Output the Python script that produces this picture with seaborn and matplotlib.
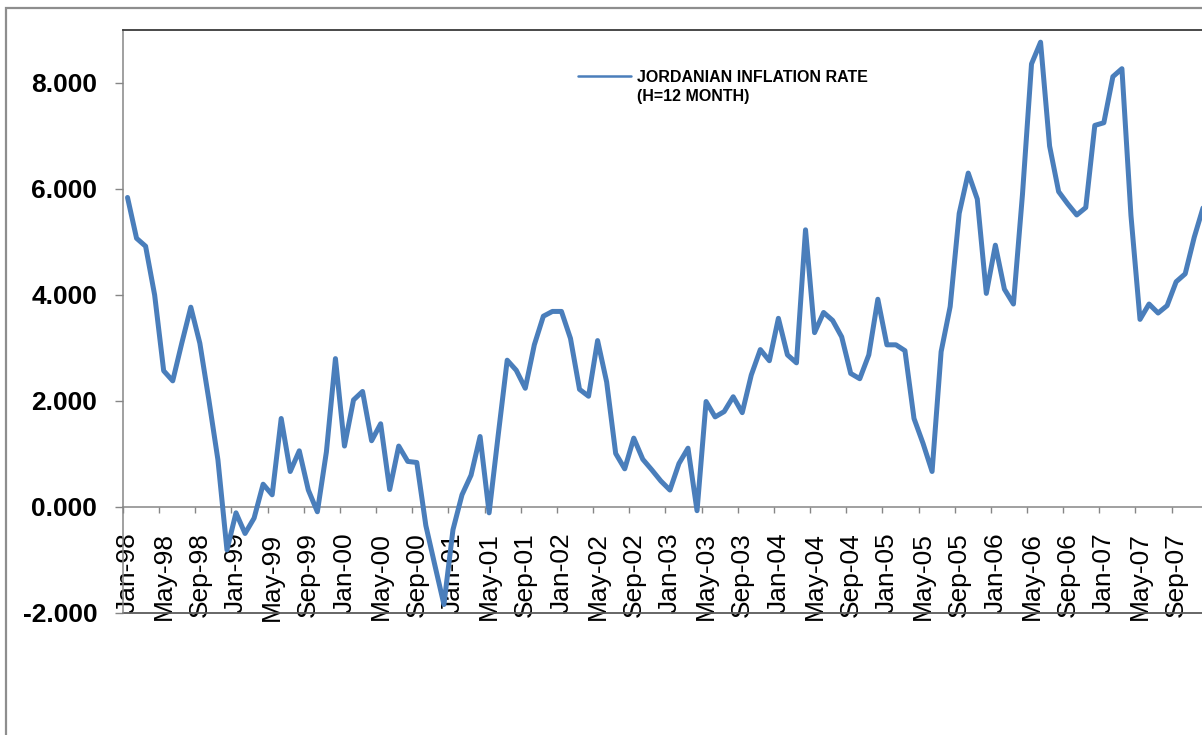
import matplotlib
matplotlib.use("Agg")
import matplotlib.pyplot as plt
from matplotlib.lines import Line2D
from matplotlib.patches import Rectangle
import seaborn as sns
import pandas as pd
import numpy as np

# ---------------- data ----------------
months = pd.date_range("1998-01-01", periods=120, freq="MS").strftime("%b-%y").tolist()
inflation = [
    5.84, 5.07, 4.92, 4.00, 2.57, 2.38, 3.09, 3.77, 3.09, 2.02, 0.89, -0.81,
    -0.11, -0.50, -0.21, 0.43, 0.23, 1.67, 0.67, 1.06, 0.32, -0.09, 1.04, 2.80,
    1.15, 2.02, 2.18, 1.25, 1.57, 0.33, 1.15, 0.86, 0.84, -0.35, -1.10, -1.84,
    -0.43, 0.23, 0.60, 1.33, -0.11, 1.35, 2.77, 2.58, 2.24, 3.06, 3.60, 3.69,
    3.69, 3.18, 2.22, 2.09, 3.14, 2.36, 1.01, 0.72, 1.30, 0.90, 0.70, 0.49,
    0.32, 0.82, 1.11, -0.07, 1.99, 1.70, 1.80, 2.08, 1.78, 2.49, 2.97, 2.76,
    3.56, 2.87, 2.72, 5.23, 3.29, 3.67, 3.52, 3.21, 2.52, 2.42, 2.87, 3.92,
    3.06, 3.06, 2.95, 1.67, 1.20, 0.67, 2.93, 3.78, 5.54, 6.30, 5.81, 4.03,
    4.94, 4.11, 3.83, 5.90, 8.36, 8.77, 6.81, 5.95, 5.72, 5.51, 5.65, 7.20,
    7.25, 8.12, 8.27, 5.50, 3.54, 3.83, 3.66, 3.80, 4.25, 4.40, 5.09, 5.66,
]
y_ticks = [-2, 0, 2, 4, 6, 8]
series_label = "JORDANIAN INFLATION RATE"
series_label2 = "(H=12 MONTH)"

df = pd.DataFrame({"idx": np.arange(len(months)), "month": months, "rate": inflation})

# ---------------- style ----------------
sns.set_style("white")
plt.rcParams["font.family"] = ["Liberation Sans", "DejaVu Sans"]
plt.rcParams["text.color"] = "black"
plt.rcParams["xtick.labelcolor"] = "black"
plt.rcParams["ytick.labelcolor"] = "black"

W, H = 1202, 735
fig = plt.figure(figsize=(W / 100, H / 100), dpi=100)
fig.patch.set_facecolor("white")

# axes: left spine at x=123, top at y=30, bottom (-2) at y=613, 9.04 px per month
left_px, top_px, bot_px, cat_w = 123, 30, 613, 9.04
n = len(months)
ax = fig.add_axes([left_px / W, 1 - bot_px / H, n * cat_w / W, (bot_px - top_px) / H])

blue = "#4a7ebb"
sns.lineplot(data=df, x="idx", y="rate", ax=ax, color=blue, linewidth=3.6,
             solid_joinstyle="round", solid_capstyle="round", label=series_label,
             zorder=5)

ax.set_xlim(-0.5, n - 0.5)
ax.set_ylim(-2, 9)
ax.set_xlabel("")
ax.set_ylabel("")

# spines
ax.spines["right"].set_visible(False)
ax.spines["top"].set_color("#3a3a3a")
ax.spines["top"].set_linewidth(1.3)
ax.spines["left"].set_color("#868686")
ax.spines["left"].set_linewidth(1.1)
ax.spines["bottom"].set_position(("data", 0))
ax.spines["bottom"].set_color("#868686")
ax.spines["bottom"].set_linewidth(1.1)
ax.axhline(-2, color="#5a5a5a", lw=1.3, clip_on=False, zorder=1)

# y axis
ax.set_yticks(y_ticks)
ax.set_yticklabels([f"{v:.3f}" for v in y_ticks], fontsize=19, fontweight="bold",
                   color="black")
ax.tick_params(axis="y", direction="out", length=6, width=1.0, color="#868686",
               pad=12.5, left=True, labelcolor="black")

# x axis: tick marks at category boundaries, labels at category centres
ax.set_xticks(np.arange(-0.5, n - 0.5, 4))
ax.set_xticklabels([])
ax.set_xticks(np.arange(0, n, 4), minor=True)
ax.set_xticklabels(months[::4], minor=True, rotation=90, fontsize=19,
                   ha="center", va="top", color="black")
ax.tick_params(axis="x", which="major", direction="out", length=4, width=1.0,
               color="#868686", bottom=True)
ax.tick_params(axis="x", which="minor", length=0, pad=18.3, bottom=True,
               labelcolor="black")

# legend
leg = ax.legend(handles=[Line2D([0], [0], color=blue, lw=1.8)], labels=[series_label],
                loc="center left", bbox_to_anchor=(578 / W, 1 - 77 / H),
                bbox_transform=fig.transFigure, frameon=False, borderpad=0,
                borderaxespad=0, handlelength=3.3, handletextpad=0.4,
                prop={"family": ["Liberation Sans", "DejaVu Sans"], "weight": "bold", "size": 11.5})
for t in leg.get_texts():
    t.set_color("black")
fig.text(637 / W, 1 - 96 / H, series_label2, fontsize=11.5, fontweight="bold",
         ha="left", va="center", color="black")

# outer chart frame (cropped at right/bottom)
fig.add_artist(Rectangle((6 / W, -0.2), 1.2, 1 - 8 / H + 0.2, transform=fig.transFigure,
                         fill=False, edgecolor="#8e8e8e", lw=1.6))

fig.savefig("out.png", dpi=100, facecolor="white")
